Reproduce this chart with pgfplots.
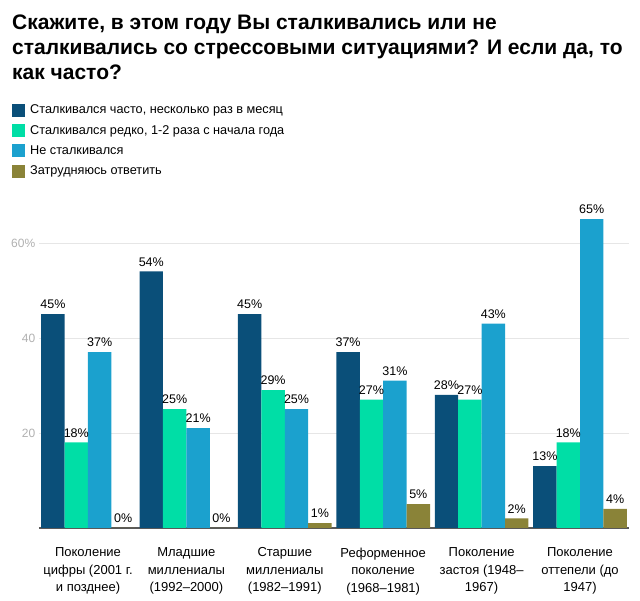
\documentclass[border=0pt]{standalone}
\usepackage{fontspec}
\setmainfont{Liberation Sans}
\newfontfamily\titlefont{Liberation Sans Bold}
\usepackage{pgfplots}
\pgfplotsset{compat=1.18}
\definecolor{cA}{RGB}{10,79,121}
\definecolor{cB}{RGB}{0,222,166}
\definecolor{cC}{RGB}{27,161,206}
\definecolor{cD}{RGB}{138,131,56}
\definecolor{gridc}{RGB}{230,230,230}
\definecolor{tickc}{RGB}{176,176,176}
\begin{document}
\begin{tikzpicture}[x=1pt,y=1pt]
\path[use as bounding box] (-38.8,-73) rectangle (601.2,528);
\node[anchor=base west,inner sep=0pt,align=left,font={\fontsize{21}{25}\titlefont}] at (-26.8,448)
{Скажите, в этом году Вы сталкивались или не\\сталкивались со стрессовыми ситуациями? И если да, то\\как часто?};
\begin{axis}[
  at={(0,0)}, anchor=south west,
  scale only axis, width=590.4pt, height=313.5pt,
  xmin=-0.5, xmax=5.5, ymin=0, ymax=66,
  ybar=0pt, bar width=0.238,
  axis x line*=bottom, axis y line*=left,
  x axis line style={draw=black!65,line width=1.5pt,-},
  y axis line style={draw=none},
  ymajorgrids, grid style={gridc,line width=0.8pt},
  ytick={20,40,60}, yticklabels={20,40,60\%},
  yticklabel style={color=tickc,font=\fontsize{12}{14}\selectfont},
  ytick style={draw=none}, xtick style={draw=none},
  xtick={0,1,2,3,4,5},
  xticklabels={{Поколение\\цифры (2001 г.\\и позднее)},{Младшие\\миллениалы\\(1992–2000)},{Старшие\\миллениалы\\(1982–1991)},{Реформенное\\поколение\\(1968–1981)},{Поколение\\застоя (1948–\\1967)},{Поколение\\оттепели (до\\1947)}},
  xticklabel style={align=center,font=\fontsize{13}{17.5}\selectfont,yshift=-12pt},
  /pgf/number format/assume math mode=true,
  clip=false,
  nodes near coords={\pgfmathprintnumber{\pgfplotspointmeta}\%},
  every node near coord/.append style={font=\fontsize{12.5}{14}\selectfont,color=black,inner sep=2pt,yshift=3pt},
  legend style={at={(-0.0454,1.355)},anchor=north west,draw=none,fill=none,
    font=\fontsize{12.7}{15}\selectfont,row sep=7pt,inner sep=0pt,
    nodes={inner sep=1.5pt},
    /tikz/every odd column/.append style={column sep=3.5pt}},
  legend cell align=left,
  legend image code/.code={\fill[#1] (0pt,-6.5pt) rectangle (13pt,6.5pt);},
]
\addplot[fill=cA,draw=none] coordinates {(0,45) (1,54) (2,45) (3,37) (4,28) (5,13)};
\addplot[fill=cB,draw=none] coordinates {(0,18) (1,25) (2,29) (3,27) (4,27) (5,18)};
\addplot[fill=cC,draw=none] coordinates {(0,37) (1,21) (2,25) (3,31) (4,43) (5,65)};
\addplot[fill=cD,draw=none] coordinates {(0,0) (1,0) (2,1) (3,5) (4,2) (5,4)};
\legend{{Сталкивался часто, несколько раз в месяц},{Сталкивался редко, 1-2 раза с начала года},{Не сталкивался},{Затрудняюсь ответить}}
\end{axis}
\end{tikzpicture}
\end{document}
